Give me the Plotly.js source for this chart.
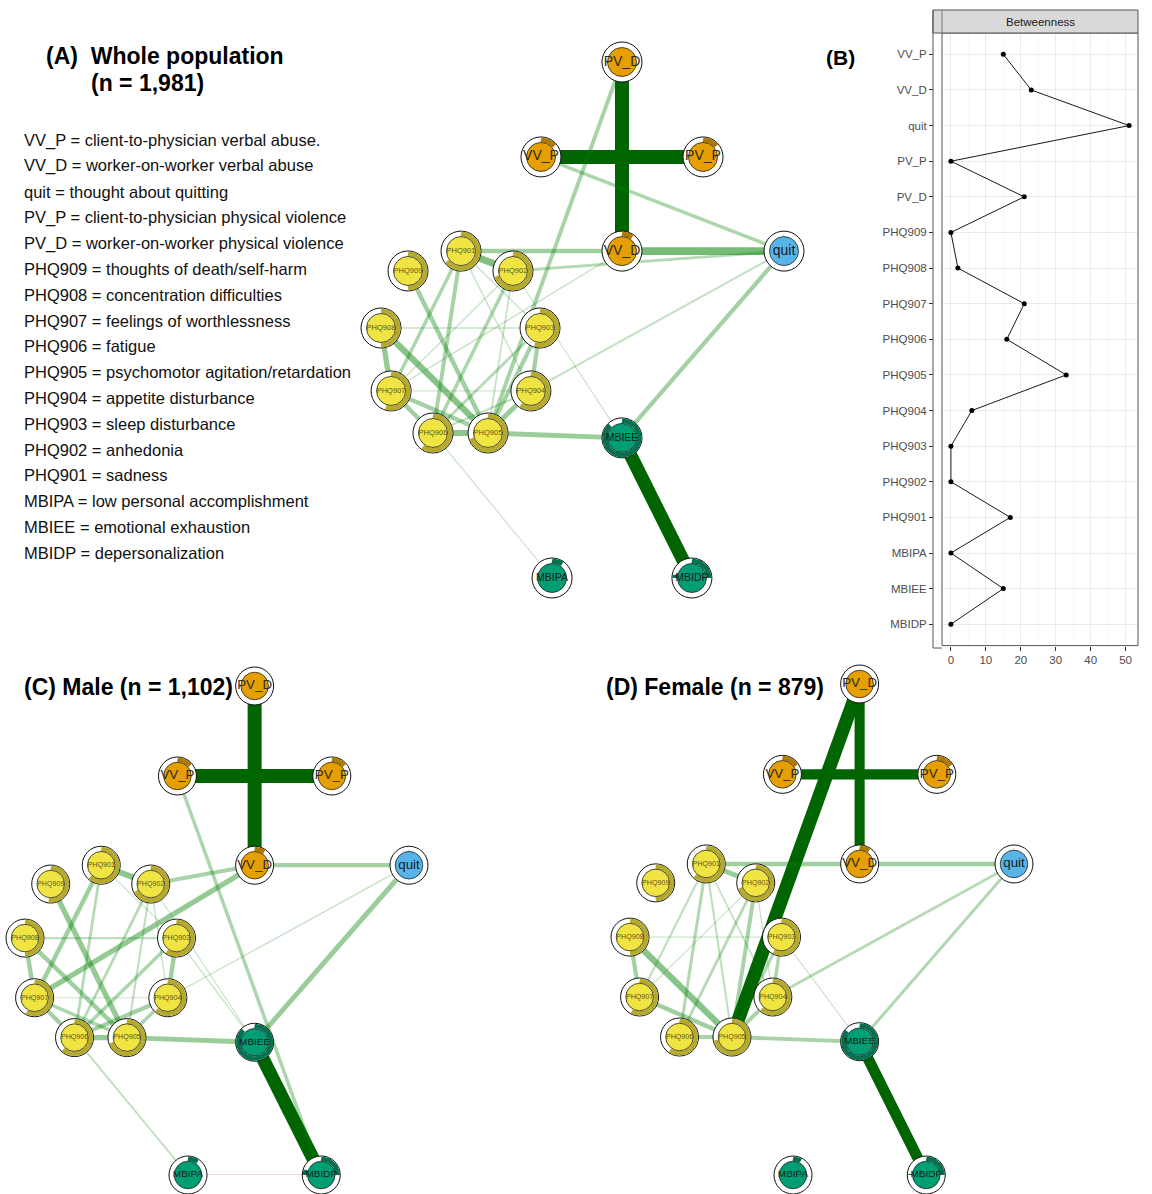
<!DOCTYPE html>
<html><head><meta charset="utf-8">
<script src="https://cdn.plot.ly/plotly-3.0.1.min.js"></script>
<style>html,body{margin:0;padding:0;background:#fff}#chart{width:1152px;height:1194px}</style>
</head><body><div id="chart"></div>
<script>
// ---------- DATA ----------
const nodes = ['PV_D','VV_P','PV_P','VV_D','quit','PHQ901','PHQ902','PHQ903','PHQ904','PHQ905','PHQ906','PHQ907','PHQ908','PHQ909','MBIEE','MBIPA','MBIDP'];
const nodeGroup = ['viol','viol','viol','viol','quit','phq','phq','phq','phq','phq','phq','phq','phq','phq','mbi','mbi','mbi'];
// shared (averaged) network layout, normalised to [-1, 1]
const layoutX = [0.196,-0.206,0.598,0.196,1.0,-0.603,-0.345,-0.211,-0.256,-0.469,-0.742,-0.950,-1.0,-0.866,0.196,-0.151,0.543];
const layoutY = [1.0,0.632,0.632,0.267,0.267,0.267,0.190,-0.031,-0.275,-0.438,-0.438,-0.275,-0.031,0.190,-0.457,-1.0,-1.0];
// predictability (pie ring) per node
const pieA = [0.08,0.14,0.14,0.10,0.27,0.65,0.70,0.55,0.60,0.70,0.60,0.55,0.55,0.50,0.88,0.10,0.78];
const pieC = [0.08,0.14,0.14,0.10,0.22,0.62,0.68,0.60,0.62,0.70,0.62,0.58,0.55,0.52,0.88,0.10,0.80];
const pieD = [0.06,0.16,0.16,0.10,0.22,0.62,0.70,0.58,0.62,0.72,0.60,0.58,0.55,0.50,0.86,0.08,0.76];

// edges: [from, to, weight]  (negative = red)
const edgesA = [
 ['PV_D','VV_D',1.0],['VV_P','PV_P',1.0],['MBIEE','MBIDP',0.95],['VV_D','quit',0.55],
 ['PHQ901','VV_D',0.32],['PHQ902','quit',0.2],['VV_P','quit',0.25],['PV_D','PHQ905',0.28],
 ['quit','MBIEE',0.3],['quit','PHQ904',0.14],['PHQ907','VV_D',0.1],['PHQ905','MBIEE',0.35],
 ['PHQ906','MBIPA',0.08],['PHQ902','MBIEE',0.08],
 ['PHQ901','PHQ902',0.5],['PHQ909','PHQ905',0.32],['PHQ908','PHQ905',0.45],['PHQ908','PHQ907',0.38],
 ['PHQ907','PHQ906',0.32],['PHQ906','PHQ905',0.42],['PHQ907','PHQ905',0.3],['PHQ901','PHQ906',0.28],
 ['PHQ901','PHQ907',0.25],['PHQ902','PHQ906',0.25],['PHQ902','PHQ907',0.1],['PHQ903','PHQ905',0.3],
 ['PHQ903','PHQ906',0.2],['PHQ903','PHQ904',0.3],['PHQ904','PHQ905',0.35],['PHQ904','PHQ906',0.15],
 ['PHQ908','PHQ903',0.1],['PHQ901','PHQ903',0.1],['PHQ901','PHQ904',0.1],['PHQ907','PHQ904',0.06],
 ['PHQ902','PHQ905',0.12]
];
const edgesC = [
 ['PV_D','VV_D',1.0],['VV_P','PV_P',1.0],['MBIEE','MBIDP',0.95],['VV_P','MBIDP',0.25],
 ['VV_D','quit',0.3],['PHQ902','VV_D',0.28],['PHQ907','VV_D',0.38],['quit','MBIEE',0.35],
 ['quit','PHQ904',0.1],['PHQ905','MBIEE',0.35],['PHQ906','MBIPA',0.14],['MBIPA','MBIDP',-0.1],
 ['PHQ903','MBIEE',0.1],['PHQ902','MBIEE',0.08],
 ['PHQ901','PHQ902',0.42],['PHQ909','PHQ905',0.38],['PHQ908','PHQ905',0.32],['PHQ908','PHQ907',0.32],
 ['PHQ907','PHQ906',0.3],['PHQ907','PHQ905',0.25],['PHQ906','PHQ905',0.38],['PHQ901','PHQ907',0.32],
 ['PHQ901','PHQ906',0.2],['PHQ902','PHQ906',0.2],['PHQ903','PHQ906',0.25],['PHQ903','PHQ904',0.32],
 ['PHQ904','PHQ906',0.3],['PHQ904','PHQ905',0.25],['PHQ908','PHQ903',0.15],['PHQ901','PHQ903',0.08],
 ['PHQ902','PHQ904',0.1],['PHQ907','PHQ904',0.08],['PHQ902','PHQ905',0.15]
];
const edgesD = [
 ['PV_D','VV_D',0.72],['VV_P','PV_P',0.72],['PV_D','PHQ905',0.95],['MBIEE','MBIDP',0.78],
 ['PHQ901','VV_D',0.32],['VV_D','quit',0.32],['quit','MBIEE',0.22],['quit','PHQ904',0.2],
 ['PHQ905','MBIEE',0.28],['PHQ903','MBIEE',0.08],
 ['PHQ901','PHQ902',0.35],['PHQ908','PHQ905',0.45],['PHQ908','PHQ907',0.3],['PHQ907','PHQ905',0.32],
 ['PHQ906','PHQ905',0.28],['PHQ901','PHQ906',0.22],['PHQ901','PHQ905',0.15],['PHQ901','PHQ907',0.15],
 ['PHQ902','PHQ906',0.2],['PHQ902','PHQ905',0.28],['PHQ902','PHQ907',0.08],['PHQ903','PHQ905',0.22],
 ['PHQ903','PHQ904',0.25],['PHQ904','PHQ905',0.28],['PHQ908','PHQ903',0.08],['PHQ901','PHQ904',0.12],
 ['PHQ902','PHQ904',0.1]
];

// betweenness (panel B)
const btwCats = ['VV_P','VV_D','quit','PV_P','PV_D','PHQ909','PHQ908','PHQ907','PHQ906','PHQ905','PHQ904','PHQ903','PHQ902','PHQ901','MBIPA','MBIEE','MBIDP'];
const btwVals = [15,23,51,0,21,0,2,21,16,33,6,0,0,17,0,15,0];
const btwTicks = [0,10,20,30,40,50];

const legendLines = [
 'VV_P = client-to-physician verbal abuse.',
 'VV_D = worker-on-worker verbal abuse',
 'quit = thought about quitting',
 'PV_P = client-to-physician physical violence',
 'PV_D = worker-on-worker physical violence',
 'PHQ909 = thoughts of death/self-harm',
 'PHQ908 = concentration difficulties',
 'PHQ907 = feelings of worthlessness',
 'PHQ906 = fatigue',
 'PHQ905 = psychomotor agitation/retardation',
 'PHQ904 = appetite disturbance',
 'PHQ903 = sleep disturbance',
 'PHQ902 = anhedonia',
 'PHQ901 = sadness',
 'MBIPA = low personal accomplishment',
 'MBIEE = emotional exhaustion',
 'MBIDP = depersonalization'
];
const titleA1 = '(A)\u00a0 Whole population';
const titleA2 = '(n = 1,981)';
const titleB = '(B)';
const titleC = '(C) Male (n = 1,102)';
const titleD = '(D) Female (n = 879)';
const stripText = 'Betweenness';

// ---------- STYLE ----------
const W = 1152, H = 1194;
const FONT = 'Liberation Sans, Arial, Helvetica, sans-serif';
const fill = {viol:'#E69F00', quit:'#56B4E9', phq:'#F0E442', mbi:'#009E73'};
const arcCol = {viol:'#B07A00', quit:'#3A8CC2', phq:'#B5AA2C', mbi:'#00724F'};
const labCol = {viol:'#2a2a2a', quit:'#1a1a1a', phq:'#5a5320', mbi:'#1a1a1a'};
const labSize = {viol:14, quit:14, phq:7.5, mbi:10.5};
const px = x => x / W, py = y => 1 - y / H;

const panels = [
 {xa:'x',  ya:'y',  x0:381, x1:784,  y0:62,  y1:578,  edges:edgesA, pie:pieA, s:1.0},
 {xa:'x2', ya:'y2', x0:25,  x1:409,  y0:686, y1:1175, edges:edgesC, pie:pieC, s:0.95},
 {xa:'x3', ya:'y3', x0:630, x1:1014, y0:684, y1:1175, edges:edgesD, pie:pieD, s:0.95}
];

function edgeStyle(w){
  const a = Math.abs(w);
  const width = Math.max(1.2, 14 * a);
  if (w < 0) return {width, color: 'rgba(230,90,90,' + (0.25 + 0.6*a) + ')'};
  if (a >= 0.7) return {width, color: 'rgb(0,100,0)'};
  return {width, color: 'rgba(0,128,0,' + (0.15 + 0.7*a).toFixed(3) + ')'};
}

const traces = [];
const layout = {
  width: W, height: H, margin: {l:0, r:0, t:0, b:0}, autosize: false,
  paper_bgcolor: '#fff', plot_bgcolor: 'rgba(0,0,0,0)', showlegend: false,
  font: {family: FONT}, annotations: [], shapes: []
};

panels.forEach((p, k) => {
  const sfx = k === 0 ? '' : String(k + 1);
  layout['xaxis' + sfx] = {domain:[px(p.x0), px(p.x1)], range:[-1,1], visible:false, fixedrange:true, anchor:p.ya};
  layout['yaxis' + sfx] = {domain:[py(p.y1), py(p.y0)], range:[-1,1], visible:false, fixedrange:true, anchor:p.xa};
  const idx = n => nodes.indexOf(n);
  p.edges.forEach(e => {
    const i = idx(e[0]), j = idx(e[1]);
    const st = edgeStyle(e[2]);
    traces.push({type:'scatter', mode:'lines', x:[layoutX[i], layoutX[j]], y:[layoutY[i], layoutY[j]],
      xaxis:p.xa, yaxis:p.ya, line:{color:st.color, width:st.width}, hoverinfo:'skip', cliponaxis:false});
  });
  const rOut = 20 * p.s, rIn = 14.5 * p.s;
  traces.push({type:'scatter', mode:'markers', x:layoutX, y:layoutY, xaxis:p.xa, yaxis:p.ya,
    marker:{size:2*rOut, color:'#fff', line:{color:'#111', width:1}}, hoverinfo:'skip', cliponaxis:false});
  const ux = 2 / (p.x1 - p.x0), uy = 2 / (p.y1 - p.y0);
  const rm = (rOut + rIn) / 2;
  nodes.forEach((n, i) => {
    const frac = p.pie[i], N = 48, ax = [], ay = [];
    for (let t = 0; t <= N; t++) {
      const th = 2 * Math.PI * frac * t / N;
      ax.push(layoutX[i] + rm * Math.sin(th) * ux);
      ay.push(layoutY[i] + rm * Math.cos(th) * uy);
    }
    traces.push({type:'scatter', mode:'lines', x:ax, y:ay, xaxis:p.xa, yaxis:p.ya,
      line:{color:arcCol[nodeGroup[i]], width:(rOut - rIn) - 0.8}, hoverinfo:'skip', cliponaxis:false});
  });
  traces.push({type:'scatter', mode:'markers', x:layoutX, y:layoutY, xaxis:p.xa, yaxis:p.ya,
    marker:{size:2*rIn, color:nodeGroup.map(g => fill[g]), line:{color:'#222', width:0.8}}, hoverinfo:'skip', cliponaxis:false});
  traces.push({type:'scatter', mode:'text', x:layoutX, y:layoutY, xaxis:p.xa, yaxis:p.ya, text:nodes,
    textposition:'middle center',
    textfont:{family:FONT, size:nodeGroup.map(g => labSize[g] * p.s), color:nodeGroup.map(g => labCol[g])},
    hoverinfo:'skip', cliponaxis:false});
});

// ---------- Panel B ----------
traces.push({type:'scatter', mode:'lines+markers', x:btwVals, y:btwCats, xaxis:'x4', yaxis:'y4',
  line:{color:'#1a1a1a', width:1}, marker:{color:'#000', size:5}, hoverinfo:'skip', cliponaxis:false});
layout.xaxis4 = {domain:[px(942), px(1138)], anchor:'y4', range:[-2.55, 53.55], tickvals:btwTicks,
  ticks:'outside', ticklen:4, tickcolor:'#333', tickwidth:1, tickfont:{size:11.5, color:'#4d4d4d', family:FONT},
  showgrid:true, gridcolor:'#ebebeb', gridwidth:1, minor:{dtick:5, tick0:0, showgrid:true, gridcolor:'#f3f3f3', gridwidth:0.6},
  zeroline:false, showline:false, fixedrange:true};
layout.yaxis4 = {domain:[py(645.6), py(33)], anchor:'free', position:px(933), type:'category',
  categoryorder:'array', categoryarray:btwCats, range:[16.6, -0.6],
  ticks:'outside', ticklen:4, tickcolor:'#333', tickwidth:1, tickfont:{size:11.5, color:'#4d4d4d', family:FONT},
  showgrid:true, gridcolor:'#ebebeb', gridwidth:1, zeroline:false, showline:false, fixedrange:true};

layout.shapes.push(
  {type:'rect', xref:'paper', yref:'paper', x0:px(942), x1:px(1138), y0:py(645.6), y1:py(33), line:{color:'#555', width:1}},
  {type:'rect', xref:'paper', yref:'paper', x0:px(933), x1:px(1138), y0:py(33), y1:py(10), fillcolor:'#d9d9d9', line:{color:'#555', width:1}},
  {type:'line', xref:'paper', yref:'paper', x0:px(942), x1:px(942), y0:py(33), y1:py(10), line:{color:'#777', width:1}},
  {type:'line', xref:'paper', yref:'paper', x0:px(933), x1:px(933), y0:py(648), y1:py(10), line:{color:'#555', width:1}},
  {type:'line', xref:'paper', yref:'paper', x0:px(933), x1:px(942), y0:py(648), y1:py(648), line:{color:'#555', width:1}}
);

// ---------- Text ----------
const ann = (txt, x, y, size, bold, opts) => Object.assign({
  text: bold ? '<b>' + txt + '</b>' : txt, xref:'paper', yref:'paper', x:px(x), y:py(y),
  xanchor:'left', yanchor:'middle', showarrow:false, font:{family:FONT, size:size, color:'#000'}}, opts || {});
layout.annotations.push(
  ann(titleA1, 44, 56, 23, true),
  ann(titleA2, 89, 83, 23, true),
  ann(titleB, 824, 58, 21, true),
  ann(titleC, 22, 687, 23, true),
  ann(titleD, 604, 687, 23, true),
  ann(stripText, 1040, 22, 11.5, false, {xanchor:'center', font:{family:FONT, size:11.5, color:'#1a1a1a'}})
);
legendLines.forEach((t, i) => {
  layout.annotations.push(ann(t, 22, 140 + i * 25.8, 16.5, false, {font:{family:FONT, size:16.5, color:'#111'}}));
});

Plotly.newPlot('chart', traces, layout, {staticPlot:true, displayModeBar:false});
</script></body></html>
